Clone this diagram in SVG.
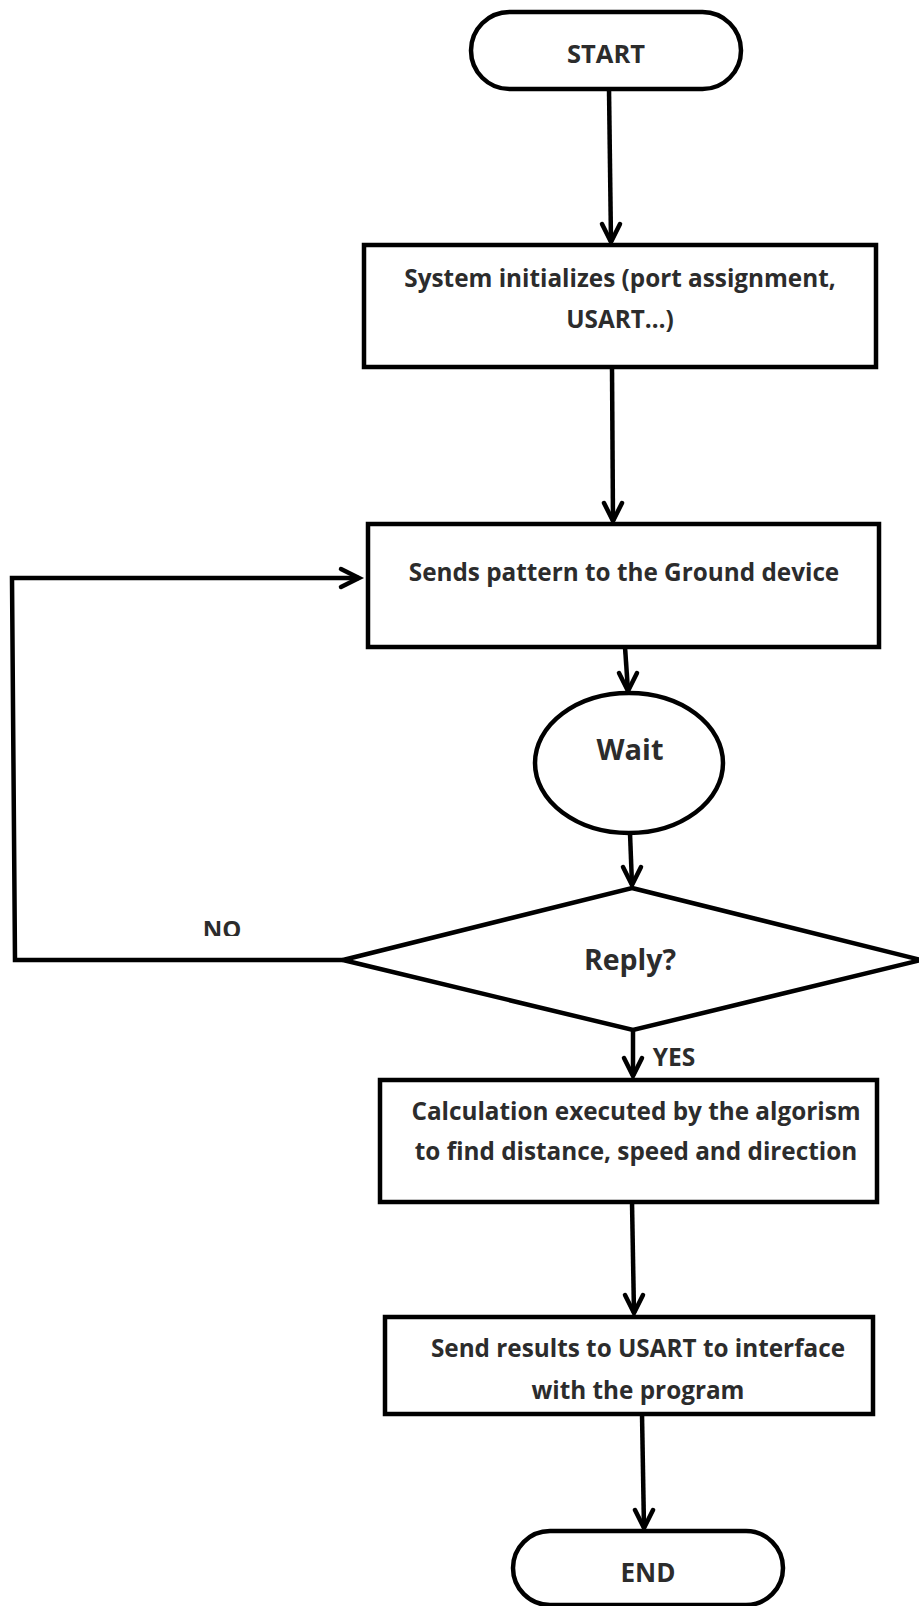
<svg xmlns="http://www.w3.org/2000/svg" width="919" height="1606" viewBox="0 0 919 1606">
  <defs>
    <style>
      .shape { fill: #ffffff; stroke: #000000; stroke-width: 4.5; stroke-linejoin: miter; }
      .edge { fill: none; stroke: #000000; stroke-width: 4.5; stroke-linecap: butt; stroke-linejoin: miter; }
      .head { fill: none; stroke: #000000; stroke-width: 4.5; stroke-linecap: round; stroke-linejoin: miter; }
      .label { font-family: "Open Sans", "Liberation Sans", sans-serif; font-weight: bold; fill: #2c2c2c; text-anchor: middle; }
      .body { font-size: 24.3px; }
    </style>
    <clipPath id="noClip">
      <rect x="180" y="900" width="90" height="36"/>
    </clipPath>
  </defs>
  <rect width="919" height="1606" fill="#ffffff"/>

  <!-- connectors -->
  <g id="connectors">
    <line class="edge" x1="609" y1="89" x2="611" y2="242"/>
    <polyline class="head" points="602,224 611,242 620,224"/>

    <line class="edge" x1="612" y1="367" x2="613" y2="521"/>
    <polyline class="head" points="604,503 613,521 622,503"/>

    <line class="edge" x1="625" y1="647" x2="628" y2="691"/>
    <polyline class="head" points="619,673 628,691 637,673"/>

    <line class="edge" x1="630" y1="833" x2="632" y2="885"/>
    <polyline class="head" points="623,867 632,885 641,867"/>

    <polyline class="edge" points="343,960 15,960 12,578 359,578"/>
    <polyline class="head" points="341,569 359,578 341,587"/>

    <line class="edge" x1="633" y1="1030" x2="633" y2="1076"/>
    <polyline class="head" points="624,1058 633,1076 642,1058"/>

    <line class="edge" x1="632" y1="1202" x2="634" y2="1313"/>
    <polyline class="head" points="625,1295 634,1313 643,1295"/>

    <line class="edge" x1="642" y1="1414" x2="644" y2="1528"/>
    <polyline class="head" points="635,1510 644,1528 653,1510"/>

    <text class="label" x="222" y="938" font-size="24" clip-path="url(#noClip)">NO</text>
    <text class="label" x="674" y="1066" font-size="24.5">YES</text>
  </g>

  <!-- terminal: start -->
  <g id="start">
    <rect class="shape" x="471" y="12" width="270" height="77" rx="38.5" ry="38.5"/>
    <text class="label" x="606" y="63" font-size="25.5">START</text>
  </g>

  <!-- process: initialisation -->
  <g id="init">
    <rect class="shape" x="364" y="245" width="512" height="122"/>
    <text class="label body" x="620" y="287">System initializes (port assignment,</text>
    <text class="label body" x="620" y="328">USART…)</text>
  </g>

  <!-- process: send pattern -->
  <g id="send-pattern">
    <rect class="shape" x="368" y="524" width="511" height="123"/>
    <text class="label body" x="624" y="581">Sends pattern to the Ground device</text>
  </g>

  <!-- wait state -->
  <g id="wait">
    <ellipse class="shape" cx="629" cy="763" rx="94" ry="70"/>
    <text class="label" x="630" y="760" font-size="29">Wait</text>
  </g>

  <!-- decision -->
  <g id="reply">
    <polygon class="shape" points="632,888 921,960 633,1030 343,960"/>
    <text class="label" x="630" y="970" font-size="28.5">Reply?</text>
  </g>

  <!-- process: calculation -->
  <g id="calculation">
    <rect class="shape" x="380" y="1080" width="497" height="122"/>
    <text class="label body" x="636" y="1120">Calculation executed by the algorism</text>
    <text class="label body" x="636" y="1160">to find distance, speed and direction</text>
  </g>

  <!-- process: output -->
  <g id="send-results">
    <rect class="shape" x="385" y="1317" width="488" height="97"/>
    <text class="label body" x="638" y="1357">Send results to USART to interface</text>
    <text class="label body" x="638" y="1399">with the program</text>
  </g>

  <!-- terminal: end -->
  <g id="end">
    <rect class="shape" x="513" y="1531" width="270" height="74" rx="37" ry="37"/>
    <text class="label" x="648" y="1582" font-size="26">END</text>
  </g>
</svg>
